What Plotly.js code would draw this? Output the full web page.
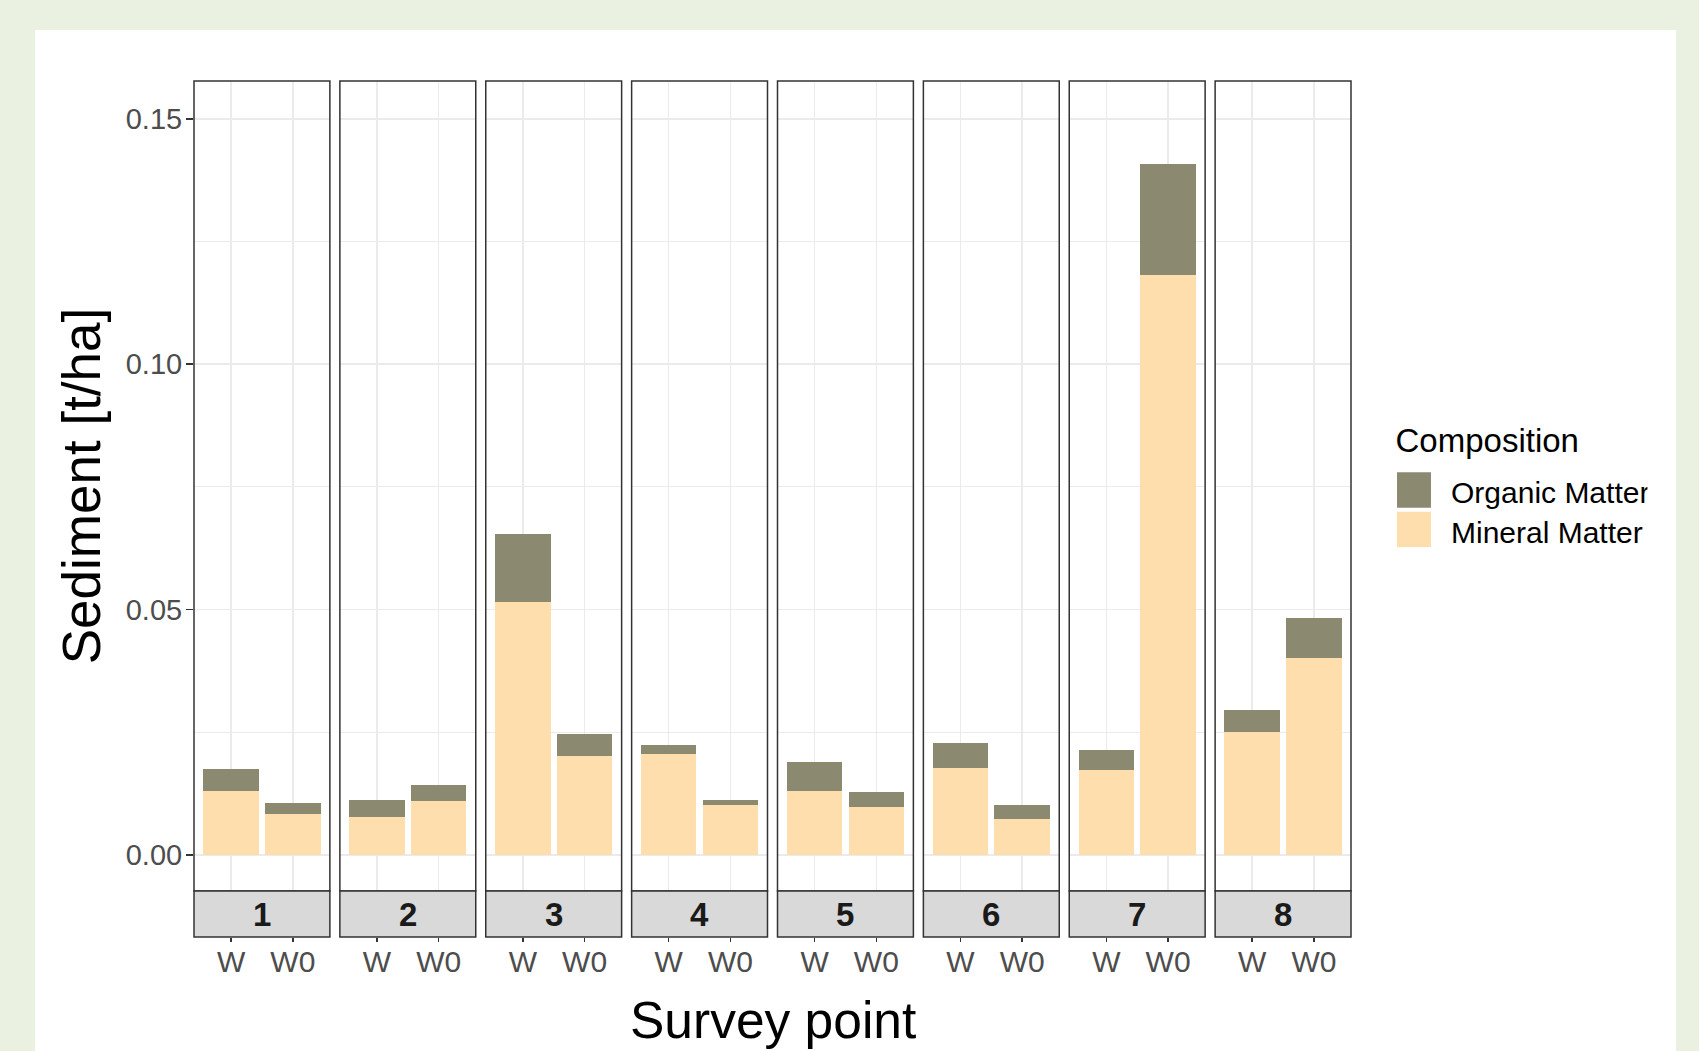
<!DOCTYPE html>
<html>
<head>
<meta charset="utf-8">
<script src="https://cdn.plot.ly/plotly-3.0.1.min.js"></script>
<style>
  html, body { margin: 0; padding: 0; background: #EBF1E1; }
  #chart { width: 1699px; height: 1051px; }
</style>
</head>
<body>
<div id="chart"></div>
<script>
// ---- data (t/ha) ----
const surveyPoints = ['1', '2', '3', '4', '5', '6', '7', '8'];
const treatments = ['W', 'W0'];
const mineralW  = [0.0131, 0.0077, 0.0516, 0.0206, 0.0131, 0.0177, 0.0174, 0.0250];
const mineralW0 = [0.0084, 0.0110, 0.0202, 0.0102, 0.0098, 0.0073, 0.1182, 0.0401];
const organicW  = [0.0044, 0.0036, 0.0137, 0.0018, 0.0058, 0.0051, 0.0040, 0.0046];
const organicW0 = [0.0022, 0.0033, 0.0044, 0.0010, 0.0030, 0.0029, 0.0225, 0.0082];
const yTickVals = [0, 0.05, 0.10, 0.15];
const yTickText = ['0.00', '0.05', '0.10', '0.15'];
const yMinorVals = [0.025, 0.075, 0.125];

// ---- styling ----
const COL_ORG = '#8B8970';
const COL_MIN = '#FFDEAD';
const GRID = '#EBEBEB';
const DARK = '#333333';
const FONT = 'Liberation Sans, Arial, sans-serif';
const LEG_FONT = 30, LEG_TITLE_FONT = 33;

const W = 1699, H = 1051;
const mL = 194, mR = 348, mT = 81, mB = 114;
const plotW = W - mL - mR, plotH = H - mT - mB;
const gapFrac = 10 / plotW;
const panelFrac = (1 - 7 * gapFrac) / 8;
const stripFrac = 46 / plotH;

const traces = [];
const layout = {
  width: W, height: H,
  margin: { l: mL, r: mR, t: mT, b: mB, pad: 0 },
  paper_bgcolor: '#EBF1E1',
  plot_bgcolor: '#FFFFFF',
  barmode: 'stack',
  bargap: 0.1,
  showlegend: true,
  font: { family: FONT, color: '#4D4D4D', size: 29 },
  legend: {
    x: 1.0367, y: 0.6153, xanchor: 'left', yanchor: 'top',
    traceorder: 'reversed',
    bgcolor: 'rgba(0,0,0,0)',
    font: { family: FONT, size: LEG_FONT, color: '#000000' },
    title: { text: 'Composition', font: { family: FONT, size: LEG_TITLE_FONT, color: '#000000' } },
    itemwidth: 40,
    tracegroupgap: 0
  },
  shapes: [{
    type: 'rect', xref: 'paper', yref: 'paper', layer: 'below',
    x0: (35 - mL) / plotW, x1: (1676 - mL) / plotW,
    y0: -0.3, y1: (H - mB - 30) / plotH,
    fillcolor: '#FFFFFF', line: { width: 0 }
  }],
  annotations: [{
    text: 'Survey point', xref: 'paper', yref: 'paper',
    x: 0.5, y: (H - mB - 1020) / plotH, xanchor: 'center', yanchor: 'middle',
    showarrow: false, font: { family: FONT, size: 51.5, color: '#000000' }
  }]
};

surveyPoints.forEach((p, i) => {
  const sfx = i === 0 ? '' : String(i + 1);
  const xa = 'x' + sfx, ya = 'y' + sfx;
  traces.push({
    type: 'bar', name: 'Mineral Matter', x: treatments,
    y: [mineralW[i], mineralW0[i]],
    xaxis: xa, yaxis: ya, showlegend: i === 0,
    marker: { color: COL_MIN, line: { width: 0 } },
    hoverinfo: 'x+y+name'
  });
  traces.push({
    type: 'bar', name: 'Organic Matter', x: treatments,
    y: [organicW[i], organicW0[i]],
    xaxis: xa, yaxis: ya, showlegend: i === 0,
    marker: { color: COL_ORG, line: { width: 0 } },
    hoverinfo: 'x+y+name'
  });

  const d0 = i * (panelFrac + gapFrac), d1 = d0 + panelFrac;
  layout['xaxis' + sfx] = {
    domain: [d0, d1], anchor: 'free', position: 0,
    type: 'category', range: [-0.6, 1.6],
    showgrid: true, gridcolor: GRID, gridwidth: 1.5,
    showline: false, zeroline: false,
    ticks: 'outside', ticklen: 4, tickwidth: 1.5, tickcolor: DARK,
    ticklabelstandoff: -6,
    tickfont: { family: FONT, size: 30, color: '#4D4D4D' },
    fixedrange: true
  };
  const yax = {
    domain: [stripFrac, 1], anchor: xa,
    range: [-0.00734, 0.1577],
    tickmode: 'array', tickvals: yTickVals, ticktext: yTickText,
    showgrid: true, gridcolor: GRID, gridwidth: 1.5,
    minor: { tickmode: 'array', tickvals: yMinorVals, showgrid: true, gridcolor: GRID, gridwidth: 1, ticks: '' },
    zeroline: false, showline: false,
    fixedrange: true
  };
  if (i === 0) {
    yax.ticks = 'outside'; yax.ticklen = 7; yax.tickwidth = 1.5; yax.tickcolor = DARK;
    yax.tickfont = { family: FONT, size: 29, color: '#4D4D4D' };
    yax.ticklabelstandoff = -2;
    yax.title = { text: 'Sediment [t/ha]', font: { family: FONT, size: 53, color: '#000000' }, standoff: 8 };
  } else {
    yax.matches = 'y'; yax.showticklabels = false; yax.ticks = '';
  }
  layout['yaxis' + sfx] = yax;

  // panel border
  layout.shapes.push({
    type: 'rect', xref: 'paper', yref: 'paper', layer: 'above',
    x0: d0, x1: d1, y0: stripFrac, y1: 1,
    line: { color: DARK, width: 1.5 }, fillcolor: 'rgba(0,0,0,0)'
  });
  // facet strip
  layout.shapes.push({
    type: 'rect', xref: 'paper', yref: 'paper', layer: 'above',
    x0: d0, x1: d1, y0: 0, y1: stripFrac,
    line: { color: DARK, width: 1.5 }, fillcolor: '#D9D9D9'
  });
  layout.annotations.push({
    text: '<b>' + p + '</b>', xref: 'paper', yref: 'paper',
    x: (d0 + d1) / 2, y: stripFrac / 2, xanchor: 'center', yanchor: 'middle',
    showarrow: false, font: { family: FONT, size: 33, color: '#1A1A1A' }
  });
});

// legend fine placement (ggplot-like large keys)
const legendTargets = {
  'Organic Matter': { left: 1451, baseline: 503, keyCx: 1414, keyCy: 490 },
  'Mineral Matter': { left: 1451, baseline: 543, keyCx: 1414, keyCy: 529.5 }
};
const ASC = 0.905;

function prependTranslate(el, dx, dy) {
  const t = el.getAttribute('transform') || '';
  el.setAttribute('transform', 'translate(' + dx + ',' + dy + ') ' + t);
}

Plotly.newPlot('chart', traces, layout, { displayModeBar: false, staticPlot: true }).then(() => {
  const title = document.querySelector('.legend .legendtitletext');
  if (title) {
    const r = title.getBoundingClientRect();
    const base = r.top + ASC * LEG_TITLE_FONT;
    prependTranslate(title, 1395.5 - r.left, 452.3 - base);
  }
  document.querySelectorAll('.legend .traces').forEach(g => {
    const txt = g.querySelector('.legendtext');
    if (!txt) return;
    const tg = legendTargets[txt.textContent.trim()];
    if (!tg) return;
    const r = txt.getBoundingClientRect();
    const base = r.top + ASC * LEG_FONT;
    prependTranslate(g, tg.left - r.left, tg.baseline - base);
    g.querySelectorAll('.legendpoints path').forEach(path => {
      const t = path.getAttribute('transform') || '';
      path.setAttribute('transform', t + ' scale(2.83,2.96)');
      const pr = path.getBoundingClientRect();
      const cx = pr.left + pr.width / 2, cy = pr.top + pr.height / 2;
      prependTranslate(path, tg.keyCx - cx, tg.keyCy - cy);
    });
  });
});
</script>
</body>
</html>
